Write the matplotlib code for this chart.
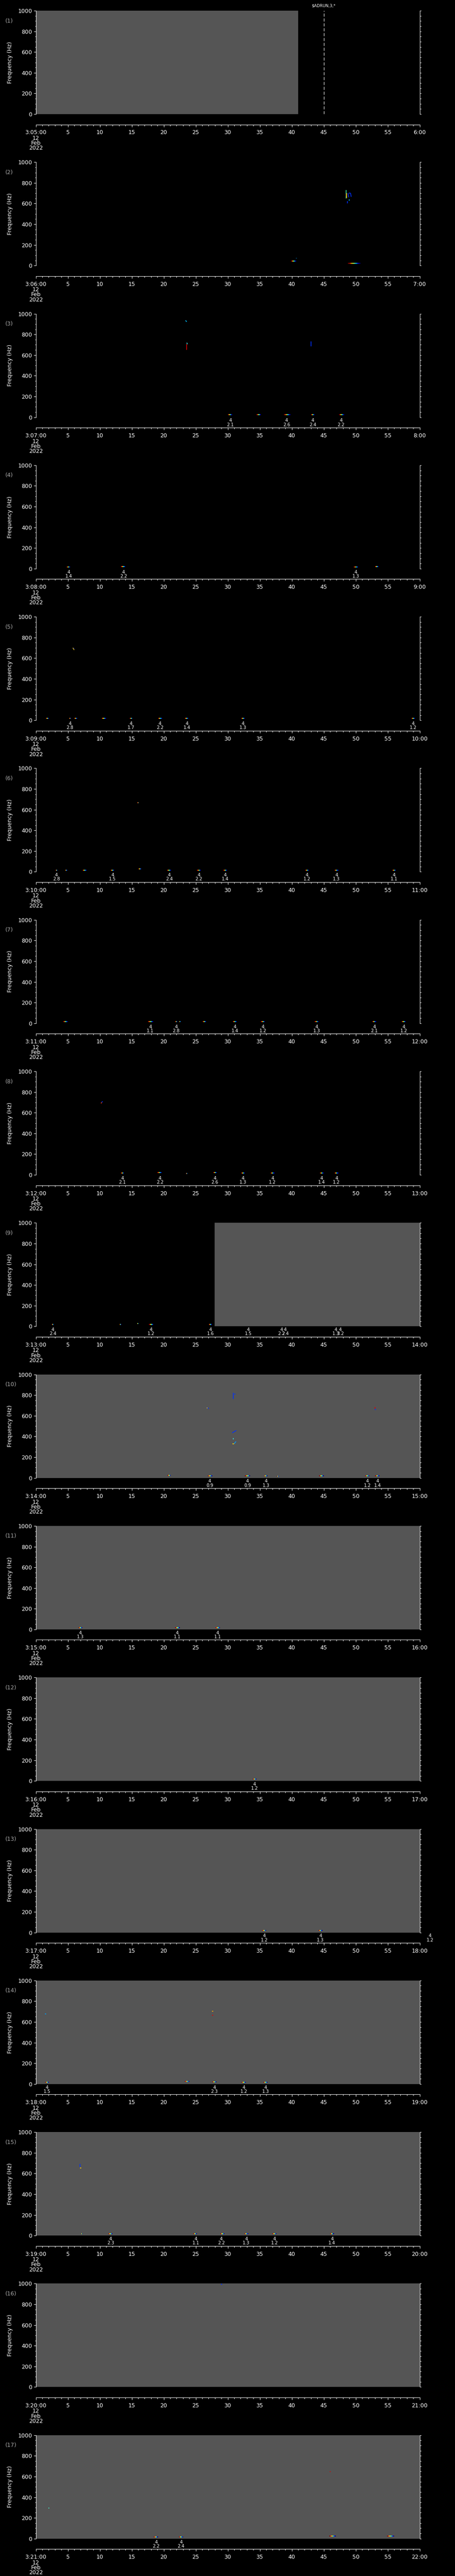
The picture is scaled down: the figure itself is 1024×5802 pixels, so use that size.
import numpy as np
import matplotlib
matplotlib.use("Agg")
import matplotlib.pyplot as plt
from matplotlib.collections import LineCollection
from matplotlib.ticker import MultipleLocator, FuncFormatter, NullFormatter
from matplotlib import transforms

# ====== data ======
N_PANELS = 17
START_MIN = [5, 6, 7, 8, 9, 10, 11, 12, 13, 14, 15, 16, 17, 18, 19, 20, 21]

# gray (no data) spans: (panel, t0, t1)
GRAY = [(0, 0, 41.0), (8, 27.95, 60), (9, 0, 60), (10, 0, 60), (11, 0, 60),
        (12, 0, 60), (13, 0, 60), (14, 0, 60), (15, 0, 60), (16, 0, 60)]

# low-frequency rainbow streaks: (panel, t0, t1, freq Hz)
STREAKS = [
    (1, 39.9, 40.7, 43), (1, 48.8, 50.7, 24),
    (2, 30.0, 30.7, 23), (2, 34.5, 35.2, 23), (2, 38.8, 39.8, 23), (2, 43.0, 43.6, 23), (2, 47.4, 48.2, 23),
    (3, 4.8, 5.4, 17), (3, 13.3, 14.0, 21), (3, 49.7, 50.4, 18), (3, 53.0, 53.6, 20),
    (4, 1.6, 2.05, 20), (4, 5.25, 5.45, 20), (4, 6.0, 6.5, 20), (4, 10.3, 11.0, 20), (4, 14.7, 15.1, 20),
    (4, 19.1, 19.75, 20), (4, 23.3, 23.85, 20), (4, 32.1, 32.7, 20), (4, 58.7, 59.3, 20),
    (5, 3.1, 3.4, 17), (5, 4.6, 4.9, 17), (5, 7.3, 7.95, 17), (5, 11.7, 12.25, 17), (5, 16.05, 16.5, 26),
    (5, 20.5, 21.15, 17), (5, 25.2, 25.8, 17), (5, 29.3, 29.9, 17), (5, 42.1, 42.7, 17), (5, 46.7, 47.3, 17),
    (5, 55.7, 56.3, 17),
    (6, 4.3, 5.0, 18), (6, 17.5, 18.4, 18), (6, 21.8, 22.1, 18), (6, 22.4, 22.65, 18), (6, 26.1, 26.6, 18),
    (6, 30.8, 31.4, 18), (6, 35.2, 35.8, 18), (6, 43.6, 44.2, 18), (6, 52.6, 53.2, 18), (6, 57.2, 57.8, 18),
    (7, 13.3, 13.8, 17), (7, 19.0, 19.7, 20), (7, 23.5, 23.7, 14), (7, 27.75, 28.3, 20),
    (7, 32.1, 32.7, 18), (7, 36.7, 37.3, 18), (7, 44.4, 45.0, 18), (7, 46.7, 47.3, 18),
    (8, 2.5, 2.8, 18), (8, 13.1, 13.35, 18), (8, 15.85, 16.05, 26), (8, 17.7, 18.4, 18), (8, 27.05, 27.5, 18),
    (9, 20.6, 21.1, 23), (9, 26.9, 27.6, 20), (9, 32.7, 33.5, 20), (9, 35.7, 36.2, 20), (9, 37.7, 37.95, 15),
    (9, 44.3, 45.0, 21), (9, 51.5, 52.1, 20), (9, 53.05, 53.7, 20),
    (10, 6.7, 7.25, 17), (10, 21.8, 22.5, 17), (10, 28.1, 28.8, 17),
    (11, 33.9, 34.5, 18),
    (12, 35.4, 36.0, 18), (12, 44.2, 44.8, 18),
    (13, 1.47, 2.05, 16), (13, 23.3, 24.0, 24), (13, 27.6, 28.25, 20), (13, 32.2, 32.8, 18), (13, 35.6, 36.2, 18),
    (14, 7.1, 7.3, 19), (14, 11.35, 12.0, 19), (14, 24.6, 25.2, 19), (14, 28.85, 29.5, 19), (14, 32.6, 33.2, 19),
    (14, 37.0, 37.6, 19), (14, 46.0, 46.6, 19),
    (16, 18.45, 19.1, 18), (16, 22.4, 23.0, 18), (16, 45.9, 46.9, 23), (16, 54.9, 56.0, 23),
]

# event labels under the plot: (panel, t, text)
EVENT_T = [
    (2, 30.4, "4\n2.1"), (2, 39.2, "4\n2.6"), (2, 43.3, "4\n2.4"), (2, 47.7, "4\n2.2"),
    (3, 5.17, "4\n1.4"), (3, 13.7, "4\n2.2"), (3, 50.0, "4\n1.3"),
    (4, 5.36, "4\n2.8"), (4, 14.9, "4\n1.7"), (4, 19.4, "4\n2.2"), (4, 23.6, "4\n1.4"), (4, 32.4, "4\n1.3"),
    (4, 59.0, "4\n1.2"),
    (5, 3.23, "4\n2.8"), (5, 12.0, "4\n1.5"), (5, 20.85, "4\n2.4"), (5, 25.5, "4\n2.2"), (5, 29.6, "4\n1.4"),
    (5, 42.4, "4\n1.2"), (5, 47.0, "4\n1.3"), (5, 56.0, "4\n1.1"),
    (6, 17.9, "4\n1.1"), (6, 21.95, "4\n2.8"), (6, 31.1, "4\n1.4"), (6, 35.5, "4\n1.2"), (6, 43.9, "4\n1.3"),
    (6, 52.9, "4\n2.1"), (6, 57.5, "4\n1.2"),
    (7, 13.55, "4\n2.1"), (7, 19.4, "4\n2.2"), (7, 28.0, "4\n2.6"), (7, 32.4, "4\n1.3"), (7, 37.0, "4\n1.2"),
    (7, 44.7, "4\n1.4"), (7, 47.0, "4\n1.2"),
    (8, 2.67, "4\n2.4"), (8, 18.0, "4\n1.2"), (8, 27.3, "4\n1.6"), (8, 33.2, "4\n1.5"), (8, 38.4, "4\n2.2"),
    (8, 39.0, "4\n2.4"), (8, 46.9, "4\n1.3"), (8, 47.6, "4\n3.2"),
    (9, 27.2, "4\n0.9"), (9, 33.1, "4\n0.9"), (9, 36.0, "4\n1.3"), (9, 51.8, "4\n1.2"), (9, 53.4, "4\n1.4"),
    (10, 6.98, "4\n1.3"), (10, 22.1, "4\n1.1"), (10, 28.4, "4\n1.1"),
    (11, 34.2, "4\n1.2"),
    (12, 35.7, "4\n1.2"), (12, 44.5, "4\n1.3"), (12, 61.6, "4\n1.2"),
    (13, 1.77, "4\n1.5"), (13, 27.9, "4\n2.3"), (13, 32.5, "4\n1.2"), (13, 35.9, "4\n1.3"),
    (14, 11.7, "4\n2.3"), (14, 25.0, "4\n1.1"), (14, 29.0, "4\n2.2"), (14, 32.9, "4\n1.3"), (14, 37.3, "4\n1.2"),
    (14, 46.3, "4\n1.4"),
    (16, 18.8, "4\n2.2"), (16, 22.7, "4\n2.4"),
]

# higher-frequency traces: (panel, t0, t1, f0, f1, colour)
TRACES = [
    (1, 48.5, 48.5, 730, 650, "#40e0a0"), (1, 48.6, 48.6, 700, 655, "#ffd000"), (1, 48.45, 48.5, 685, 680, "#e00000"),
    (1, 48.8, 48.9, 700, 660, "#0030ff"), (1, 48.9, 49.2, 700, 700, "#0030ff"), (1, 49.2, 49.3, 700, 665, "#0030ff"),
    (1, 48.7, 48.7, 625, 600, "#0030ff"), (1, 49.0, 49.0, 640, 630, "#00c0ff"), (1, 40.7, 40.7, 75, 72, "#00a0ff"),
    (2, 23.4, 23.6, 935, 922, "#00c0ff"), (2, 23.6, 23.6, 705, 652, "#e00000"), (2, 23.6, 23.7, 720, 705, "#40e0e0"),
    (2, 43.0, 43.0, 730, 687, "#0030ff"),
    (4, 5.8, 6.0, 700, 680, "#ffd000"), (4, 5.9, 6.0, 695, 690, "#0030ff"),
    (5, 15.9, 16.1, 667, 667, "#ff6000"), (5, 16.0, 16.1, 667, 667, "#40e0e0"),
    (7, 10.2, 10.3, 690, 700, "#ff4000"), (7, 10.3, 10.45, 700, 710, "#0030ff"),
    (9, 30.9, 30.9, 822, 764, "#0030ff"), (9, 31.0, 31.2, 810, 810, "#0030ff"),
    (9, 26.7, 27.05, 680, 670, "#0030ff"), (9, 26.75, 26.8, 680, 672, "#ffd000"),
    (9, 30.7, 31.35, 435, 459, "#0030ff"), (9, 30.9, 30.9, 385, 372, "#40e0e0"),
    (9, 30.7, 31.0, 330, 330, "#ffd000"), (9, 31.0, 31.3, 330, 352, "#00a0ff"),
    (9, 53.05, 53.05, 685, 668, "#e00000"), (9, 53.05, 53.1, 668, 655, "#0030ff"),
    (13, 1.43, 1.63, 678, 678, "#00a0ff"), (13, 27.5, 27.75, 705, 705, "#ffb000"), (13, 27.5, 27.75, 665, 665, "#e00000"),
    (14, 6.9, 6.9, 692, 660, "#0030ff"), (14, 6.9, 7.1, 655, 655, "#ffd000"),
    (15, 28.9, 29.1, 995, 995, "#0030ff"),
    (16, 2.0, 2.1, 297, 297, "#40ffd0"), (16, 45.95, 46.1, 648, 648, "#e00000"),
]

MARKER_T = 45.0
MARKER_TEXT = r"\$ADRUN,3,*"

# ====== layout (pixels) ======
W, H = 1024, 5802
SLOT = H / N_PANELS
LEFT, RIGHT = 80.5, 944.5
TOP_OFF, BOT_OFF = 24, 257
PT = 72 / 100  # points per pixel

plt.rcParams['font.family'] = 'DejaVu Sans'
fig = plt.figure(figsize=(W / 100, H / 100), dpi=100, facecolor="black")

gray_col = "#555555"
jet = plt.get_cmap("jet_r")

for i in range(N_PANELS):
    slot = i * SLOT
    ax = fig.add_axes([LEFT / W, 1 - (slot + BOT_OFF) / H, (RIGHT - LEFT) / W, (BOT_OFF - TOP_OFF) / H])
    ax.set_facecolor("black")
    ax.set_xlim(0, 60)
    ax.set_ylim(0, 1000)

    for p, t0, t1 in GRAY:
        if p == i:
            ax.axvspan(t0, t1, color=gray_col, lw=0, zorder=0)

    # streaks
    segs, vals = [], []
    for p, t0, t1, f in STREAKS:
        if p != i:
            continue
        xs = np.linspace(t0, t1, 9)
        for k in range(8):
            segs.append([(xs[k], f), (xs[k + 1], f)])
            vals.append(k / 7)
    if segs:
        lc = LineCollection(segs, cmap=jet, linewidths=2.0 * PT, zorder=3)
        lc.set_array(np.array(vals))
        ax.add_collection(lc)

    for p, t0, t1, f0, f1, c in TRACES:
        if p == i:
            ax.plot([t0, t1], [f0, f1], color=c, lw=1.6 * PT, zorder=3, solid_capstyle="butt")

    trans = transforms.blended_transform_factory(ax.transData, ax.transAxes)
    for p, t, txt in EVENT_T:
        if p == i:
            ax.text(t, -0.012, txt, transform=trans, ha="center", va="top", color="white",
                    fontsize=7.2, linespacing=0.9, clip_on=False)

    if i == 0:
        ax.axvline(MARKER_T, color="white", lw=1 * PT, ls=(0, (7, 4)), zorder=4)
        ax.text(MARKER_T, 1.03, MARKER_TEXT, transform=trans, ha="center", va="bottom",
                color="white", fontsize=6.5)

    # spines
    ax.spines["top"].set_visible(False)
    for s in ("left", "right", "bottom"):
        ax.spines[s].set_color("white")
        ax.spines[s].set_linewidth(1 * PT)
    ax.spines["bottom"].set_position(("outward", 23.5 * PT))

    ax.xaxis.set_major_locator(MultipleLocator(5))
    ax.xaxis.set_minor_locator(MultipleLocator(1))
    ax.yaxis.set_major_locator(MultipleLocator(200))
    ax.yaxis.set_minor_locator(MultipleLocator(50))

    m = START_MIN[i]

    def fmt(x, pos, m=m):
        if abs(x) < 1e-6:
            return "3:%02d:00" % m
        if abs(x - 60) < 1e-6:
            return "%d:00" % (m + 1)
        return "%d" % round(x)

    ax.xaxis.set_major_formatter(FuncFormatter(fmt))
    ax.tick_params(axis="x", which="both", direction="out", colors="white", width=1 * PT,
                   labelsize=9, pad=7 * PT)
    ax.tick_params(axis="x", which="major", length=5 * PT)
    ax.tick_params(axis="x", which="minor", length=3 * PT)
    ax.tick_params(axis="y", which="both", direction="out", colors="white", width=1 * PT,
                   labelsize=9, pad=3.5 * PT, right=False)
    ax.tick_params(axis="y", which="major", length=4.7 * PT)
    ax.tick_params(axis="y", which="minor", length=2.2 * PT)

    sec = ax.secondary_yaxis("right")
    sec.yaxis.set_major_locator(MultipleLocator(50))
    sec.yaxis.set_major_formatter(NullFormatter())
    sec.tick_params(axis="y", direction="out", colors="white", width=1 * PT, length=3 * PT)
    sec.spines["right"].set_color("white")
    sec.spines["right"].set_linewidth(1 * PT)

    # date lines under the first tick
    ax.text(0, (BOT_OFF - 305) / (BOT_OFF - TOP_OFF), "12\nFeb\n2022", transform=trans,
            ha="center", va="top", color="white", fontsize=9, linespacing=0.82)

    # y label and panel number
    ax.text((23 - LEFT) / (RIGHT - LEFT), 0.5, "Frequency (Hz)", transform=ax.transAxes,
            rotation=90, ha="center", va="center", color="white", fontsize=9)
    ax.text((12 - LEFT) / (RIGHT - LEFT), (BOT_OFF - 47) / (BOT_OFF - TOP_OFF), "(%d)" % (i + 1),
            transform=ax.transAxes, ha="left", va="center", color="#a8a8a8", fontsize=9)

fig.savefig("out.png", dpi=100, facecolor="black")
